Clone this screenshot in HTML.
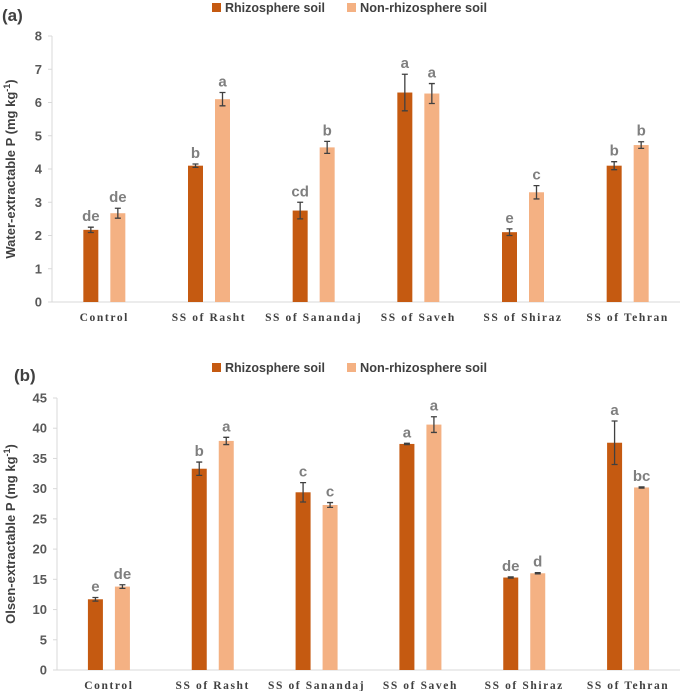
<!DOCTYPE html>
<html><head><meta charset="utf-8"><style>
body{margin:0;background:#fff;width:685px;height:691px;overflow:hidden}
svg text{font-family:"Liberation Sans",sans-serif}
</style></head><body>
<svg id="svg" width="685" height="691" viewBox="0 0 685 691" xmlns="http://www.w3.org/2000/svg"></svg>
<script>
const categories=["Control","SS of Rasht","SS of Sanandaj","SS of Saveh","SS of Shiraz","SS of Tehran"];
const aRhizo=[2.17,4.1,2.75,6.3,2.1,4.1];
const aRhizoErr=[0.08,0.05,0.25,0.55,0.1,0.12];
const aNon=[2.67,6.1,4.65,6.27,3.3,4.72];
const aNonErr=[0.15,0.2,0.18,0.3,0.2,0.1];
const aRhizoLetters=["de","b","cd","a","e","b"];
const aNonLetters=["de","a","b","a","c","b"];
const aTicks=[0,1,2,3,4,5,6,7,8];
const bRhizo=[11.7,33.3,29.4,37.4,15.3,37.6];
const bRhizoErr=[0.3,1.1,1.6,0.1,0.1,3.6];
const bNon=[13.8,37.9,27.3,40.6,16.0,30.2];
const bNonErr=[0.3,0.6,0.4,1.3,0.1,0.1];
const bRhizoLetters=["e","b","c","a","de","a"];
const bNonLetters=["de","a","c","a","d","bc"];
const bTicks=[0,5,10,15,20,25,30,35,40,45];

const NS="http://www.w3.org/2000/svg";
const svg=document.getElementById("svg");
function mk(tag,attrs,parent,txt){const e=document.createElementNS(NS,tag);for(const k in attrs)e.setAttribute(k,attrs[k]);if(txt!==undefined)e.textContent=txt;(parent||svg).appendChild(e);return e;}

function panel(p){
  const g=mk("g",{});
  
  
  const y=v=>p.y0-(v/p.max)*(p.y0-p.yTop);
  const band=(p.xEnd-p.x0)/categories.length;
  const cx=i=>p.x0+band*(i+0.5);
  const pl=mk("text",{x:p.labelX,y:p.labelY,"font-size":17,"font-weight":"bold",fill:"#404040"},g,p.label);
  
  
  const lg=mk("g",{},g);
  
  
  [[p.legX,"#C55A11","Rhizosphere soil",100],[p.legX+135,"#F4B183","Non-rhizosphere soil",127]].forEach(d=>{
    const e=mk("g",{},lg);
    
    
    mk("rect",{x:d[0],y:p.legY-9,width:9,height:9,fill:d[1]},e);
    mk("text",{x:d[0]+13,y:p.legY,"font-size":13,"font-weight":"bold",fill:"#404040",textLength:d[3],lengthAdjust:"spacingAndGlyphs"},e,d[2]);
  });
  mk("line",{x1:p.x0,y1:p.yTop,x2:p.x0,y2:p.y0,stroke:"#d9d9d9","stroke-width":1},g);
  mk("line",{x1:p.x0,y1:p.y0,x2:p.xEnd,y2:p.y0,stroke:"#d9d9d9","stroke-width":1},g);
  p.ticks.forEach(t=>{
    mk("line",{x1:p.x0-4,y1:y(t),x2:p.x0,y2:y(t),stroke:"#d9d9d9"},g);
    const tl=mk("text",{x:p.x0-10,y:y(t)+4.5,"font-size":13,"font-weight":"bold",fill:"#595959","text-anchor":"end"},g,String(t));
    
    
  });
  const yt=mk("text",{transform:`translate(${p.titleX},${(p.y0+p.yTop)/2}) rotate(-90)`,"font-size":13,"font-weight":"bold",fill:"#404040","text-anchor":"middle"},g);
  
  
  yt.innerHTML=p.title+' (mg kg<tspan dy="-5" font-size="9">-1</tspan><tspan dy="5">)</tspan>';
  const series=[[p.r,p.re,p.rl,"#C55A11",-13.5,"bar-rhizosphere"],[p.n,p.ne,p.nl,"#F4B183",13.5,"bar-non-rhizosphere"]];
  categories.forEach((c,i)=>{
    series.forEach(s=>{
      const v=s[0][i],e=s[1][i],x=cx(i)+s[4];
      const b=mk("rect",{x:x-7.5,y:y(v),width:15,height:p.y0-y(v),fill:s[3]},g);
      
      
      const eb=mk("path",{d:`M${x} ${y(v+e)}V${y(v-e)}M${x-3} ${y(v+e)}h6M${x-3} ${y(v-e)}h6`,stroke:"#404040","stroke-width":1.3,fill:"none"},g);
      
      
      const lt=mk("text",{x:x,y:y(v+e)-6,"font-size":15,"font-weight":"bold",fill:"#7f7f7f","text-anchor":"middle"},g,s[2][i]);
      
      
    });
    const xl=mk("text",{x:cx(i),y:p.y0+19,"font-size":11.5,"font-weight":"bold",fill:"#404040","text-anchor":"middle","letter-spacing":"1.6",style:"font-family:'Liberation Serif',serif"},g,c);
    
    
  });
}
panel({name:"chart-a",label:"(a)",labelX:2,labelY:21,legX:212,legY:12,x0:52,xEnd:680,y0:302,yTop:36,max:8,ticks:aTicks,title:"Water-extractable P",titleX:15,r:aRhizo,re:aRhizoErr,rl:aRhizoLetters,n:aNon,ne:aNonErr,nl:aNonLetters});
panel({name:"chart-b",label:"(b)",labelX:14,labelY:381,legX:212,legY:372,x0:57,xEnd:680,y0:670,yTop:398,max:45,ticks:bTicks,title:"Olsen-extractable P",titleX:15,r:bRhizo,re:bRhizoErr,rl:bRhizoLetters,n:bNon,ne:bNonErr,nl:bNonLetters});
</script>
</body></html>
